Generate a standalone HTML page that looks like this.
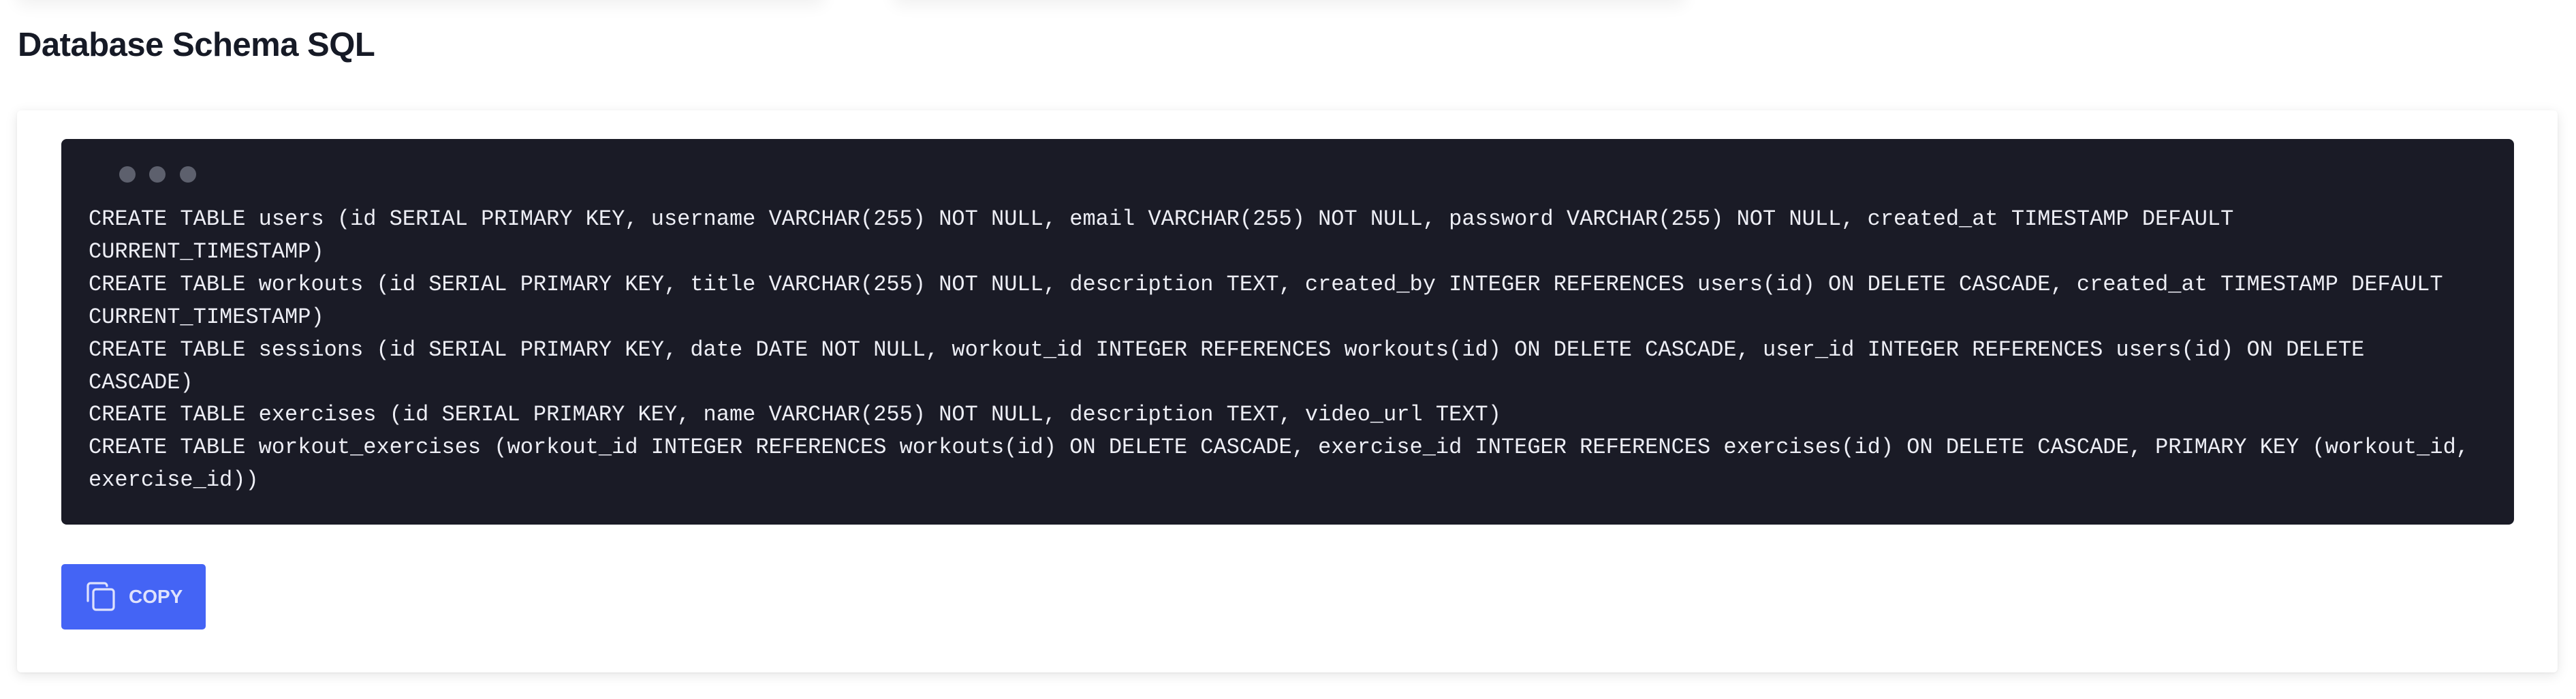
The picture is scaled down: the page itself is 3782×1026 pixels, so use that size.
<!DOCTYPE html>
<html><head><meta charset="utf-8">
<style>
html,body{margin:0;padding:0;background:#fff;}
body{width:3782px;height:1026px;position:relative;overflow:hidden;font-family:"Liberation Sans",sans-serif;}
.topc{position:absolute;top:-100px;height:100px;background:#fff;border-radius:8px;box-shadow:0 8px 24px rgba(0,0,0,0.06);}
h1{position:absolute;left:26px;top:36px;margin:0;font-size:49px;font-weight:700;color:#161a26;letter-spacing:-0.5px;line-height:60px;}
.card{position:absolute;left:25px;top:162px;width:3730px;height:825px;background:#fff;border-radius:6px;box-shadow:0 4px 18px rgba(0,0,0,0.10),0 1px 3px rgba(0,0,0,0.05);}
.code{position:absolute;left:90px;top:204px;width:3601px;height:566px;background:#1a1b26;border-radius:8px;}
.dot{position:absolute;top:244px;width:24px;height:24px;border-radius:50%;background:#5d606d;}
pre{position:absolute;left:130px;top:298px;margin:0;font-family:"Liberation Mono",monospace;font-size:32px;line-height:47.9px;color:#edeef5;}
.btn{position:absolute;left:90px;top:828px;width:212px;height:96px;background:#4464f5;border-radius:5px;}
.btn span{position:absolute;left:99px;top:34px;font-size:28px;font-weight:700;color:#dfe2fc;line-height:28px;}
</style></head><body>
<div class="topc" style="left:25px;width:1185px"></div>
<div class="topc" style="left:1312px;width:1162px"></div>
<h1>Database Schema SQL</h1>
<div class="card"></div>
<div class="code"></div>
<div class="dot" style="left:175px"></div>
<div class="dot" style="left:219px"></div>
<div class="dot" style="left:264px"></div>
<pre>CREATE TABLE users (id SERIAL PRIMARY KEY, username VARCHAR(255) NOT NULL, email VARCHAR(255) NOT NULL, password VARCHAR(255) NOT NULL, created_at TIMESTAMP DEFAULT
CURRENT_TIMESTAMP)
CREATE TABLE workouts (id SERIAL PRIMARY KEY, title VARCHAR(255) NOT NULL, description TEXT, created_by INTEGER REFERENCES users(id) ON DELETE CASCADE, created_at TIMESTAMP DEFAULT
CURRENT_TIMESTAMP)
CREATE TABLE sessions (id SERIAL PRIMARY KEY, date DATE NOT NULL, workout_id INTEGER REFERENCES workouts(id) ON DELETE CASCADE, user_id INTEGER REFERENCES users(id) ON DELETE
CASCADE)
CREATE TABLE exercises (id SERIAL PRIMARY KEY, name VARCHAR(255) NOT NULL, description TEXT, video_url TEXT)
CREATE TABLE workout_exercises (workout_id INTEGER REFERENCES workouts(id) ON DELETE CASCADE, exercise_id INTEGER REFERENCES exercises(id) ON DELETE CASCADE, PRIMARY KEY (workout_id,
exercise_id))</pre>
<div class="btn">
<svg style="position:absolute;left:34px;top:24px" width="48" height="48" viewBox="0 0 48 48" fill="none" stroke="#dfe2fc" stroke-width="3.2" stroke-linecap="round">
<path d="M5 30 V8 a4 4 0 0 1 4 -4 H29 a4 4 0 0 1 4 4"/>
<rect x="13" y="13" width="30" height="30" rx="4"/>
</svg>
<span>COPY</span>
</div>
</body></html>
